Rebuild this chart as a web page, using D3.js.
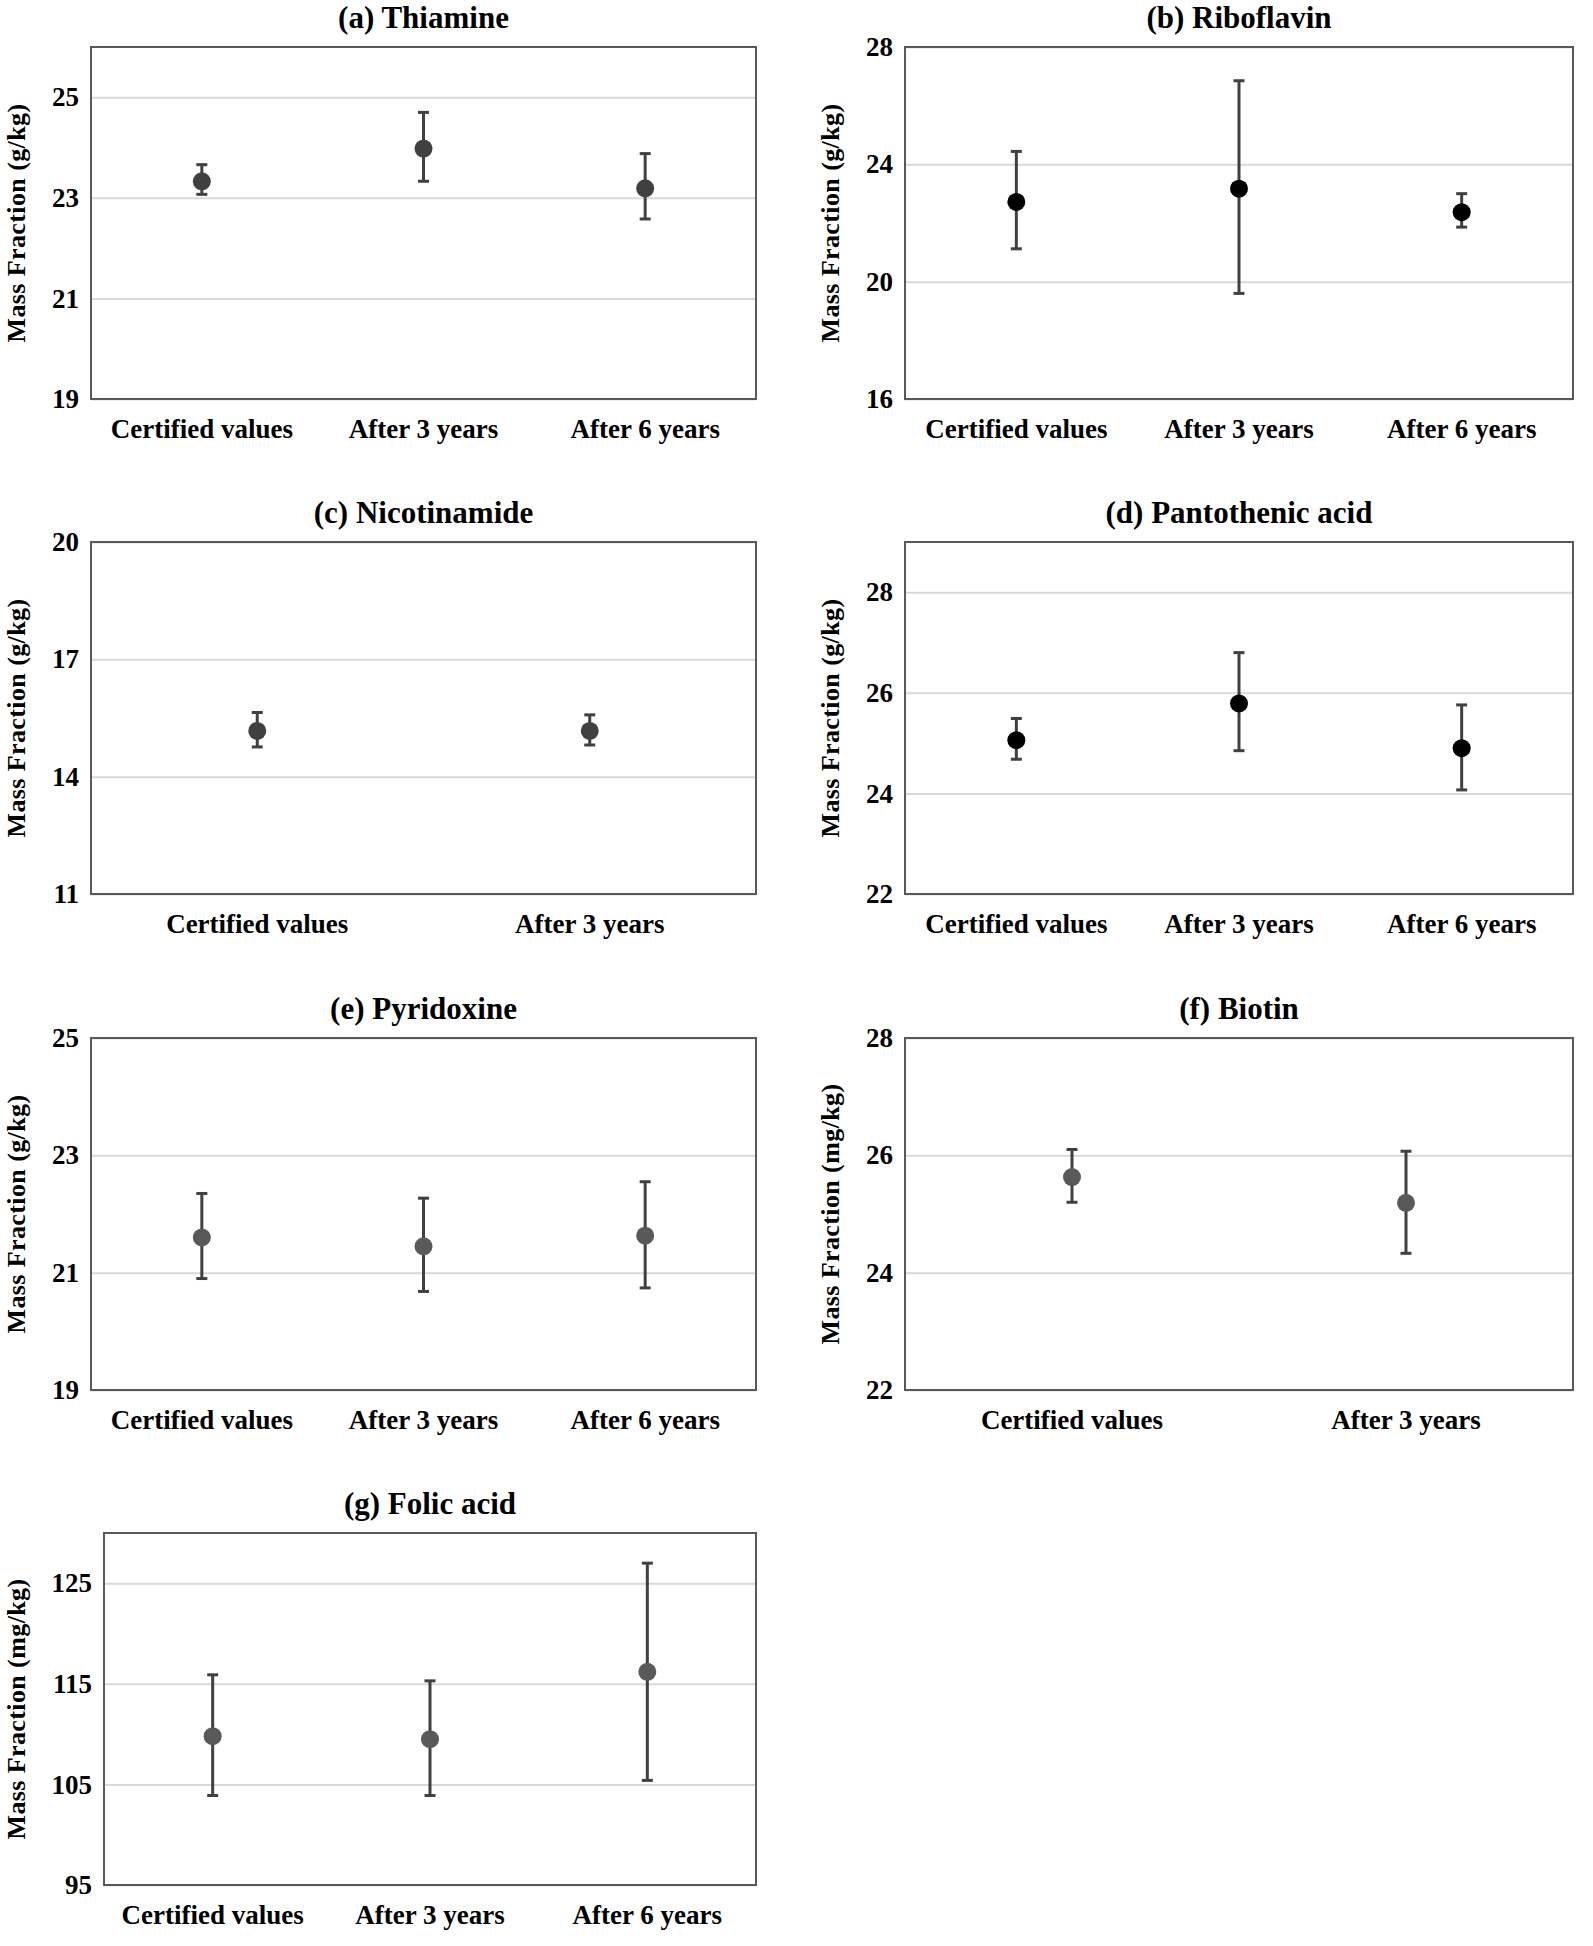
<!DOCTYPE html>
<html>
<head>
<meta charset="utf-8">
<script src="https://cdn.jsdelivr.net/npm/d3@7"></script>
<style>
  body { margin: 0; background: #fff; }
  svg text { font-family: "Liberation Serif", "Times New Roman", serif; font-weight: bold; fill: #000; }
</style>
</head>
<body>
<svg id="chart"></svg>
<script>
// categories
const cat3 = ["Certified values", "After 3 years", "After 6 years"];
const cat2 = ["Certified values", "After 3 years"];

// values: mean, upper and lower end of the error bar
const thiamineMean = [23.33, 23.98, 23.19];
const thiamineHigh = [23.66, 24.70, 23.88];
const thiamineLow  = [23.07, 23.33, 22.58];
const thiamineTicks = [19, 21, 23, 25];
const thiamineRange = [19, 26];

const riboflavinMean = [22.72, 23.17, 22.37];
const riboflavinHigh = [24.44, 26.85, 23.00];
const riboflavinLow  = [21.12, 19.60, 21.86];
const riboflavinTicks = [16, 20, 24, 28];
const riboflavinRange = [16, 28];

const nicotinamideMean = [15.17, 15.17];
const nicotinamideHigh = [15.64, 15.58];
const nicotinamideLow  = [14.76, 14.81];
const nicotinamideTicks = [11, 14, 17, 20];
const nicotinamideRange = [11, 20];

const pantothenicMean = [25.06, 25.79, 24.90];
const pantothenicHigh = [25.49, 26.80, 25.76];
const pantothenicLow  = [24.68, 24.85, 24.07];
const pantothenicTicks = [22, 24, 26, 28];
const pantothenicRange = [22, 29];

const pyridoxineMean = [21.60, 21.45, 21.63];
const pyridoxineHigh = [22.35, 22.27, 22.55];
const pyridoxineLow  = [20.90, 20.68, 20.74];
const pyridoxineTicks = [19, 21, 23, 25];
const pyridoxineRange = [19, 25];

const biotinMean = [25.63, 25.19];
const biotinHigh = [26.10, 26.07];
const biotinLow  = [25.20, 24.33];
const biotinTicks = [22, 24, 26, 28];
const biotinRange = [22, 28];

const folicMean = [109.8, 109.5, 116.2];
const folicHigh = [115.9, 115.3, 127.0];
const folicLow  = [103.9, 103.9, 105.4];
const folicTicks = [95, 105, 115, 125];
const folicRange = [95, 130];

// layout
const colOffset = [0, 814];
const boxLeft = [91, 905];
const boxRight = [756, 1573];
const rowTop = [47, 542, 1038, 1533];
const boxH = 352;

let panels = [
    {title: "(a) Thiamine", unit: "(g/kg)", cats: cat3, mean: thiamineMean, high: thiamineHigh, low: thiamineLow,
        ticks: thiamineTicks, range: thiamineRange, col: 0, row: 0, dot: "#404040"},
    {title: "(b) Riboflavin", unit: "(g/kg)", cats: cat3, mean: riboflavinMean, high: riboflavinHigh, low: riboflavinLow,
        ticks: riboflavinTicks, range: riboflavinRange, col: 1, row: 0, dot: "#000000"},
    {title: "(c) Nicotinamide", unit: "(g/kg)", cats: cat2, mean: nicotinamideMean, high: nicotinamideHigh, low: nicotinamideLow,
        ticks: nicotinamideTicks, range: nicotinamideRange, col: 0, row: 1, dot: "#404040"},
    {title: "(d) Pantothenic acid", unit: "(g/kg)", cats: cat3, mean: pantothenicMean, high: pantothenicHigh, low: pantothenicLow,
        ticks: pantothenicTicks, range: pantothenicRange, col: 1, row: 1, dot: "#000000"},
    {title: "(e) Pyridoxine", unit: "(g/kg)", cats: cat3, mean: pyridoxineMean, high: pyridoxineHigh, low: pyridoxineLow,
        ticks: pyridoxineTicks, range: pyridoxineRange, col: 0, row: 2, dot: "#595959"},
    {title: "(f) Biotin", unit: "(mg/kg)", cats: cat2, mean: biotinMean, high: biotinHigh, low: biotinLow,
        ticks: biotinTicks, range: biotinRange, col: 1, row: 2, dot: "#595959"},
    {title: "(g) Folic acid", unit: "(mg/kg)", cats: cat3, mean: folicMean, high: folicHigh, low: folicLow,
        ticks: folicTicks, range: folicRange, col: 0, row: 3, dot: "#595959", left: 104}
];

let svg = d3.select("#chart")
    .attr("width", 1593)
    .attr("height", 1946);

panels.forEach(function (p) {
    let x0 = p.left || boxLeft[p.col];
    let x1 = boxRight[p.col];
    let top = rowTop[p.row];
    let bottom = top + boxH;

    let x = d3.scaleBand().domain(p.cats).range([x0, x1]);
    let y = d3.scaleLinear().domain(p.range).range([bottom, top]);
    let g = svg.append("g");

    // gridlines + tick labels
    g.append("g")
        .attr("transform", "translate(" + x0 + ",0)")
        .call(d3.axisLeft(y).tickValues(p.ticks).tickFormat(d3.format("d"))
            .tickSize(-(x1 - x0)).tickPadding(12))
        .attr("font-size", 27)
        .call(a => a.select(".domain").remove())
        .call(a => a.selectAll("line").attr("stroke", "#d9d9d9").attr("stroke-width", 2));

    // category labels
    g.append("g")
        .attr("transform", "translate(0," + bottom + ")")
        .call(d3.axisBottom(x).tickSize(0).tickPadding(20))
        .attr("font-size", 27)
        .call(a => a.select(".domain").remove());

    // plot frame
    g.append("rect")
        .attr("x", x0)
        .attr("y", top)
        .attr("width", x1 - x0)
        .attr("height", boxH)
        .attr("fill", "none")
        .attr("stroke", "#595959")
        .attr("stroke-width", 2);

    let rows = p.cats.map((c, i) => ({cat: c, mean: p.mean[i], high: p.high[i], low: p.low[i]}));
    let cx = d => x(d.cat) + x.bandwidth() / 2;

    let bars = g.selectAll(".bar").data(rows).enter().append("g")
        .attr("stroke", "#404040")
        .attr("stroke-width", 3);
    bars.append("line")
        .attr("x1", cx).attr("x2", cx)
        .attr("y1", d => y(d.high)).attr("y2", d => y(d.low));
    bars.append("line")
        .attr("x1", d => cx(d) - 5.5).attr("x2", d => cx(d) + 5.5)
        .attr("y1", d => y(d.high)).attr("y2", d => y(d.high));
    bars.append("line")
        .attr("x1", d => cx(d) - 5.5).attr("x2", d => cx(d) + 5.5)
        .attr("y1", d => y(d.low)).attr("y2", d => y(d.low));

    g.selectAll(".dot").data(rows).enter().append("circle")
        .attr("cx", cx)
        .attr("cy", d => y(d.mean))
        .attr("r", 9)
        .attr("fill", p.dot);

    // title
    g.append("text")
        .attr("x", (x0 + x1) / 2)
        .attr("y", top - 19)
        .attr("text-anchor", "middle")
        .attr("font-size", 31)
        .text(p.title);

    // y axis label
    g.append("text")
        .attr("transform", "translate(" + (colOffset[p.col] + 25) + "," + (top + bottom) / 2 + ") rotate(-90)")
        .attr("text-anchor", "middle")
        .attr("font-size", 26)
        .attr("letter-spacing", 0.4)
        .text("Mass Fraction " + p.unit);
});
</script>
</body>
</html>
